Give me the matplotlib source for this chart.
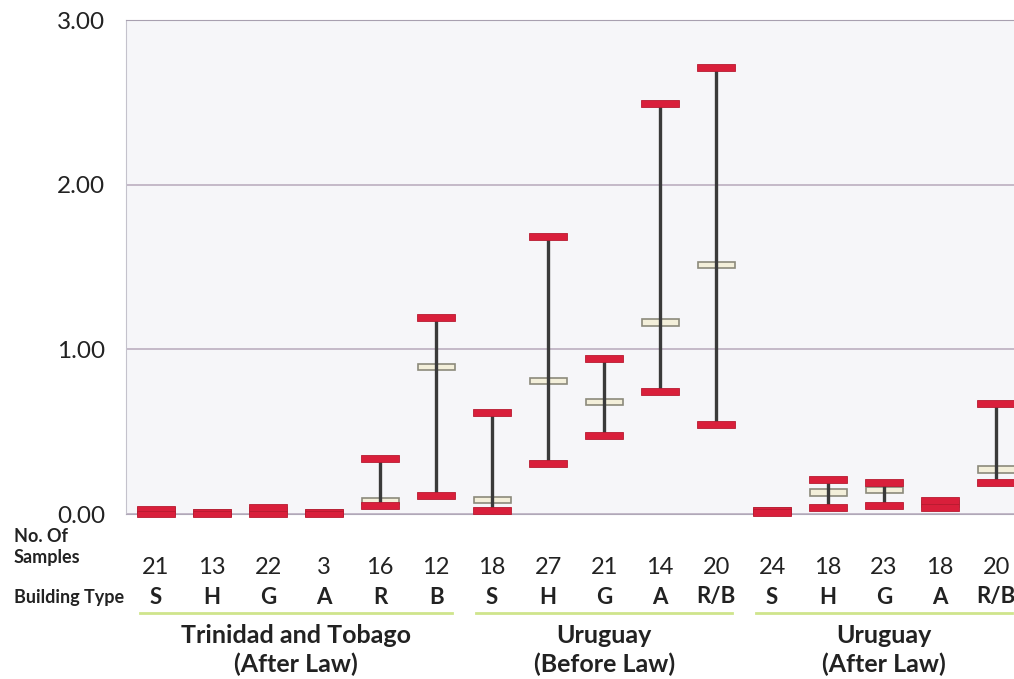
import numpy as np
import matplotlib.pyplot as plt

# =========================
# 0. Data
# =========================
building = ['S', 'H', 'G', 'A', 'R', 'B',
            'S', 'H', 'G', 'A', 'R/B',
            'S', 'H', 'G', 'A', 'R/B']
n_samples = [21, 13, 22, 3, 16, 12,
             18, 27, 21, 14, 20,
             24, 18, 23, 18, 20]
high = [0.03, 0.01, 0.04, 0.01, 0.335, 1.196,
        0.615, 1.686, 0.943, 2.495, 2.709,
        0.02, 0.21, 0.19, 0.08, 0.67]
low = [0.00, 0.00, 0.00, 0.00, 0.05, 0.113,
       0.02, 0.304, 0.475, 0.742, 0.542,
       0.01, 0.04, 0.05, 0.04, 0.19]
mean = [0.015, 0.005, 0.02, 0.005, 0.08, 0.895,
        0.085, 0.81, 0.68, 1.163, 1.51,
        0.015, 0.13, 0.145, 0.06, 0.27]
groups = ['Trinidad and Tobago\n(After Law)',
          'Uruguay\n(Before Law)',
          'Uruguay\n(After Law)']
group_span = [(0, 5), (6, 10), (11, 15)]

# =========================
# 1. Figure
# =========================
plt.rcParams['font.family'] = ['Lato', 'DejaVu Sans']
fig = plt.figure(figsize=(10.14, 6.79), dpi=100)
ax = fig.add_axes([0.1243, 0.243, 0.8757, 0.7275])
ax.set_facecolor('#f6f6f9')

x = np.arange(len(building))
ax.set_xlim(-0.536, 15.32)
ax.set_ylim(0, 3.0)

red_h = 0.042
box_h = 0.038
ax.bar(x, box_h, bottom=np.array(mean) - box_h / 2, width=0.66,
       color='#f3efda', edgecolor='#8c8a7c', linewidth=1.2, zorder=3, clip_on=False)
ax.vlines(x, low, high, color='#3a3a3a', linewidth=2.4, zorder=4)
ax.bar(x, red_h, bottom=np.array(high) - red_h / 2, width=0.68,
       color='#d91f3b', edgecolor='#b81a30', linewidth=0.6, zorder=5, clip_on=False)
ax.bar(x, red_h, bottom=np.array(low) - red_h / 2, width=0.68,
       color='#d91f3b', edgecolor='#b81a30', linewidth=0.6, zorder=5, clip_on=False)

ax.set_yticks([0, 1, 2, 3])
ax.set_yticklabels(['0.00', '1.00', '2.00', '3.00'], fontsize=17.5, color='#222222')
ax.tick_params(axis='y', length=0, pad=15)
ax.set_xticks([])
ax.grid(axis='y', color='#bcaec0', linewidth=1.2)
ax.set_axisbelow(True)
ax.spines['right'].set_visible(False)
ax.spines['left'].set_color('#c4c2cc')
ax.spines['top'].set_color('#a8a0b0')
ax.spines['top'].set_linestyle((0, (2, 1)))
ax.spines['bottom'].set_color('#b0a8b8')

# =========================
# 2. Labels under the axis
# =========================
tr = ax.get_xaxis_transform()
y0 = ax.get_position().y0
def fy(py):
    return (1 - py / 679 - y0) / ax.get_position().height

for xi, n, b in zip(x, n_samples, building):
    ax.text(xi, fy(567), str(n), transform=tr, ha='center', va='center',
            fontsize=17, color='#222222', clip_on=False)
    ax.text(xi, fy(597), b, transform=tr, ha='center', va='center',
            fontsize=16, fontweight='bold', color='#222222', clip_on=False)

fig.text(14 / 1014, 1 - 537 / 679, 'No. Of', ha='left', va='center',
         fontsize=13, fontweight='bold', color='#222222')
fig.text(14 / 1014, 1 - 557 / 679, 'Samples', ha='left', va='center',
         fontsize=13, fontweight='bold', color='#222222')
fig.text(14 / 1014, 1 - 598 / 679, 'Building Type', ha='left', va='center',
         fontsize=13, fontweight='bold', color='#222222')

for (a, b), g in zip(group_span, groups):
    ax.plot([a - 0.28, min(b + 0.28, 15.32)], [fy(613), fy(613)], transform=tr,
            color='#cfe58c', linewidth=2, clip_on=False)
    ax.text((a + b) / 2, fy(650), g, transform=tr, ha='center', va='center',
            fontsize=18, fontweight='bold', color='#222222', linespacing=1.25,
            clip_on=False)

fig.savefig('out.png', dpi=100)
